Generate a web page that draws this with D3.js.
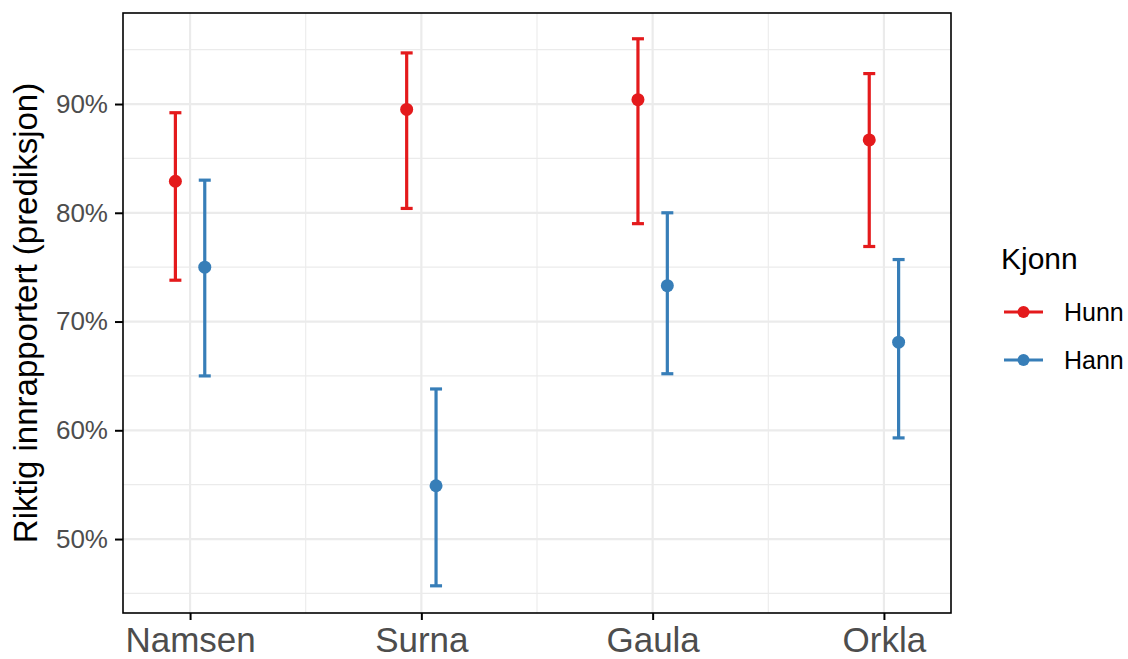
<!DOCTYPE html>
<html>
<head>
<meta charset="utf-8">
<script src="https://cdn.jsdelivr.net/npm/d3@7"></script>
<style>
  body { margin: 0; background: #fff; }
  text { font-family: "Liberation Sans", Arial, sans-serif; }
</style>
</head>
<body>
<div id="vis"></div>
<script>
var width = 1128,
    height = 659;

// data (percent)
var rivers = ["Namsen", "Surna", "Gaula", "Orkla"];
var sexes = ["Hunn", "Hann"];
var hunnFit  = [82.9, 89.5, 90.4, 86.7];
var hunnLow  = [73.8, 80.4, 79.0, 76.9];
var hunnHigh = [89.2, 94.7, 96.0, 92.8];
var hannFit  = [75.0, 54.9, 73.3, 68.1];
var hannLow  = [65.0, 45.7, 65.2, 59.3];
var hannHigh = [83.0, 63.8, 80.0, 75.7];
var majorTicks = [50, 60, 70, 80, 90];
var minorTicks = [45, 55, 65, 75, 85, 95];

var colors = {Hunn: "#E41A1C", Hann: "#377EB8"};

var panel = {left: 123, right: 951, top: 13, bottom: 613};

var svg = d3.select("#vis").append("svg")
    .attr("width", width)
    .attr("height", height);

var x = d3.scalePoint().domain(rivers)
    .range([panel.left, panel.right])
    .padding(0.29);

var y = d3.scaleLinear().domain([43.2, 98.37])
    .range([panel.bottom, panel.top]);

var dodge = x.step() * 0.0635;

// rows for drawing
var rows = [];
rivers.forEach(function(r, i) {
    rows.push({river: r, sex: "Hunn", fit: hunnFit[i], lo: hunnLow[i], hi: hunnHigh[i]});
    rows.push({river: r, sex: "Hann", fit: hannFit[i], lo: hannLow[i], hi: hannHigh[i]});
});
function xpos(d) { return x(d.river) + (d.sex == "Hunn" ? -dodge : dodge); }

//----------GRID---------//
var grid = svg.append("g");
grid.selectAll(".minory").data(minorTicks).enter().append("line")
    .attr("x1", panel.left).attr("x2", panel.right)
    .attr("y1", function(d) { return y(d); }).attr("y2", function(d) { return y(d); })
    .style("stroke", "#EBEBEB").style("stroke-width", 1.1);
var mids = d3.range(rivers.length - 1).map(function(i) {
    return (x(rivers[i]) + x(rivers[i + 1])) / 2;
});
grid.selectAll(".minorx").data(mids).enter().append("line")
    .attr("y1", panel.top).attr("y2", panel.bottom)
    .attr("x1", function(d) { return d; }).attr("x2", function(d) { return d; })
    .style("stroke", "#EBEBEB").style("stroke-width", 1.1);
grid.selectAll(".majory").data(majorTicks).enter().append("line")
    .attr("x1", panel.left).attr("x2", panel.right)
    .attr("y1", function(d) { return y(d); }).attr("y2", function(d) { return y(d); })
    .style("stroke", "#EBEBEB").style("stroke-width", 2.2);
grid.selectAll(".majorx").data(rivers).enter().append("line")
    .attr("y1", panel.top).attr("y2", panel.bottom)
    .attr("x1", function(d) { return x(d); }).attr("x2", function(d) { return x(d); })
    .style("stroke", "#EBEBEB").style("stroke-width", 2.2);

//----------ERRORBARS---------//
var g = svg.append("g");
var bars = g.selectAll(".bar").data(rows).enter().append("g")
    .style("stroke", function(d) { return colors[d.sex]; })
    .style("stroke-width", 3.2);
bars.append("line")
    .attr("x1", xpos).attr("x2", xpos)
    .attr("y1", function(d) { return y(d.lo); })
    .attr("y2", function(d) { return y(d.hi); });
bars.append("line")
    .attr("x1", function(d) { return xpos(d) - 6; })
    .attr("x2", function(d) { return xpos(d) + 6; })
    .attr("y1", function(d) { return y(d.lo); })
    .attr("y2", function(d) { return y(d.lo); });
bars.append("line")
    .attr("x1", function(d) { return xpos(d) - 6; })
    .attr("x2", function(d) { return xpos(d) + 6; })
    .attr("y1", function(d) { return y(d.hi); })
    .attr("y2", function(d) { return y(d.hi); });
g.selectAll(".pt").data(rows).enter().append("circle")
    .attr("cx", xpos)
    .attr("cy", function(d) { return y(d.fit); })
    .attr("r", 6.5)
    .style("fill", function(d) { return colors[d.sex]; });

//----------PANEL BORDER & AXES---------//
svg.append("rect")
    .attr("x", panel.left).attr("y", panel.top)
    .attr("width", panel.right - panel.left)
    .attr("height", panel.bottom - panel.top)
    .style("fill", "none").style("stroke", "#000").style("stroke-width", 1.6);

var yAxis = svg.append("g")
    .attr("transform", "translate(" + panel.left + ",0)")
    .call(d3.axisLeft(y).tickValues(majorTicks)
        .tickSize(8).tickPadding(7)
        .tickFormat(function(d) { return d + "%"; }));
yAxis.select(".domain").remove();
yAxis.selectAll(".tick line").style("stroke", "#000").style("stroke-width", 2);
yAxis.selectAll(".tick text")
    .style("font-size", "26px").style("fill", "#4D4D4D")
    .style("font-family", "Liberation Sans, Arial, sans-serif");

var xAxis = svg.append("g")
    .attr("transform", "translate(0," + panel.bottom + ")")
    .call(d3.axisBottom(x).tickSize(7).tickPadding(7));
xAxis.select(".domain").remove();
xAxis.selectAll(".tick line").style("stroke", "#000").style("stroke-width", 2);
xAxis.selectAll(".tick text")
    .style("font-size", "35px").style("fill", "#4D4D4D")
    .style("font-family", "Liberation Sans, Arial, sans-serif");

svg.append("text")
    .attr("transform", "translate(37," + ((panel.top + panel.bottom) / 2) + ") rotate(-90)")
    .attr("text-anchor", "middle")
    .style("font-size", "33px")
    .style("fill", "#000")
    .text("Riktig innrapportert (prediksjon)");

//----------LEGEND---------//
var legend = svg.append("g").attr("id", "legend");
legend.append("text")
    .attr("x", 1001).attr("y", 269)
    .style("font-size", "30px").style("fill", "#000")
    .text("Kjonn");
var item = legend.selectAll(".legenditem").data(sexes).enter().append("g")
    .attr("transform", function(d, i) { return "translate(0," + (312 + i * 48) + ")"; });
item.append("line")
    .attr("x1", 1004).attr("x2", 1043)
    .style("stroke", function(d) { return colors[d]; })
    .style("stroke-width", 3.2);
item.append("circle")
    .attr("cx", 1023.5).attr("r", 6)
    .style("fill", function(d) { return colors[d]; });
item.append("text")
    .attr("x", 1064).attr("y", 0).attr("dy", "0.35em")
    .style("font-size", "25px").style("fill", "#000")
    .text(function(d) { return d; });
</script>
</body>
</html>
